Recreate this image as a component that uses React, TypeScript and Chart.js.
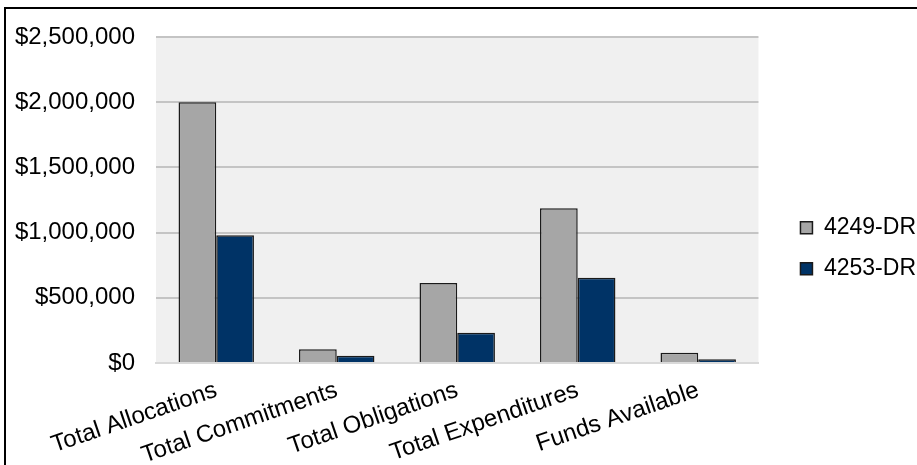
import React, { useEffect, useRef } from "react";
import { Chart, registerables } from "chart.js";

Chart.register(...registerables);

const categories = [
  "Total Allocations",
  "Total Commitments",
  "Total Obligations",
  "Total Expenditures",
  "Funds Available",
];
const seriesNames = ["4249-DR", "4253-DR"];
const values4249 = [2000000, 105000, 613000, 1186000, 79000];
const values4253 = [980000, 56000, 232000, 654000, 28000];
const yTicks = [0, 500000, 1000000, 1500000, 2000000, 2500000];

const FONT = "'Liberation Sans', Arial, sans-serif";

const plotBg = {
  id: "plotBg",
  beforeDraw(chart: any) {
    const { ctx, chartArea } = chart;
    if (!chartArea) return;
    ctx.save();
    ctx.fillStyle = "#f0f0f0";
    ctx.fillRect(chartArea.left, chartArea.top, chartArea.right - chartArea.left, chartArea.bottom - chartArea.top);
    ctx.restore();
  },
};

export default function App() {
  const ref = useRef<HTMLCanvasElement | null>(null);
  useEffect(() => {
    if (!ref.current) return;
    const chart = new Chart(ref.current, {
      type: "bar",
      data: {
        labels: categories,
        datasets: [
          {
            label: seriesNames[0],
            data: values4249,
            backgroundColor: "#a6a6a6",
            borderColor: "#1a1a1a",
            borderWidth: 1.5,
            categoryPercentage: 0.626,
            barPercentage: 1,
          },
          {
            label: seriesNames[1],
            data: values4253,
            backgroundColor: "#003366",
            borderColor: "#1a1a1a",
            borderWidth: 1.5,
            categoryPercentage: 0.626,
            barPercentage: 1,
          },
        ],
      },
      options: {
        animation: false,
        responsive: false,
        maintainAspectRatio: false,
        layout: { padding: { top: 37, left: 0, right: -9, bottom: 0 } },
        plugins: {
          tooltip: { enabled: false },
          legend: {
            position: "right",
            align: "start",
            title: { display: true, text: " ", font: { size: 1 }, padding: { top: 160, bottom: 0 } },
            labels: {
              boxWidth: 12,
              boxHeight: 12,
              padding: 18,
              color: "#000",
              font: { family: FONT, size: 23 },
            },
          },
        },
        scales: {
          x: {
            grid: { display: false, drawTicks: false },
            border: { display: true, color: "#d9d9d9", width: 2 },
            ticks: {
              autoSkip: false,
              minRotation: 19,
              maxRotation: 19,
              padding: 13,
              color: "#000",
              font: { family: FONT, size: 24 },
            },
            afterFit: (s: any) => {
              s.height = 102;
            },
          },
          y: {
            min: 0,
            max: 2500000,
            afterBuildTicks: (s: any) => {
              s.ticks = yTicks.map((v) => ({ value: v }));
            },
            grid: { color: "#c4c4c4", lineWidth: 2, drawTicks: false },
            border: { display: false },
            ticks: {
              padding: 21,
              color: "#000",
              font: { family: FONT, size: 24 },
              callback: (v: any) => "$" + Number(v).toLocaleString("en-US"),
            },
            afterFit: (s: any) => {
              s.width = 156;
            },
          },
          gap: {
            type: "linear",
            position: "right",
            display: true,
            grid: { display: false, drawTicks: false },
            border: { display: false },
            ticks: { display: false },
            afterFit: (s: any) => {
              s.width = 24;
            },
          },
        },
      },
      plugins: [plotBg],
    } as any);
    return () => chart.destroy();
  }, []);

  return (
    <div style={{ position: "absolute", left: 0, top: 0, width: 917, height: 465, background: "#fff" }}>
      <canvas ref={ref} width={917} height={465} style={{ position: "absolute", left: 0, top: 0, width: 917, height: 465 }} />
      <div
        style={{
          position: "absolute",
          left: 4,
          top: 7,
          right: 0,
          bottom: 0,
          borderLeft: "2px solid #000",
          borderTop: "2px solid #000",
          pointerEvents: "none",
        }}
      />
    </div>
  );
}
